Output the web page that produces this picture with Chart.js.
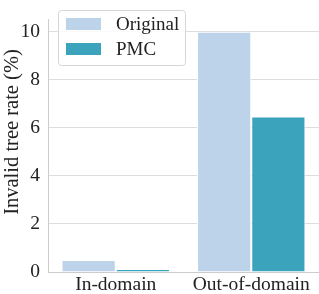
<!DOCTYPE html>
<html>
<head>
<meta charset="utf-8">
<script src="https://cdn.jsdelivr.net/npm/chart.js@4/dist/chart.umd.min.js"></script>
<style>
  html, body { margin: 0; padding: 0; background: #fff; }
  #wrap { width: 319px; height: 294px; }
</style>
</head>
<body>
<div id="wrap"><canvas id="myChart" width="319" height="294"></canvas></div>
<script>
const categories = ['In-domain', 'Out-of-domain'];
const originalValues = [0.5, 10.0];
const pmcValues = [0.13, 6.47];
const yTicks = [0, 2, 4, 6, 8, 10];
const yTitle = 'Invalid tree rate (%)';

const serif = '"Liberation Serif", "Times New Roman", serif';

// legend box drawn inside the plot, like the matplotlib one
const boxLegend = {
    id: 'boxLegend',
    afterDraw(chart) {
        const ctx = chart.ctx;
        const x = 58.5, y = 10.5, w = 127, h = 55;
        ctx.save();
        ctx.fillStyle = 'rgba(255,255,255,0.85)';
        ctx.strokeStyle = '#d6d6d6';
        ctx.lineWidth = 1;
        ctx.beginPath();
        ctx.roundRect(x, y, w, h, 3);
        ctx.fill();
        ctx.stroke();
        ctx.font = '19px ' + serif;
        ctx.textBaseline = 'middle';
        chart.data.datasets.forEach(function(ds, i) {
            const cy = 24 + i * 25;
            ctx.fillStyle = ds.backgroundColor;
            ctx.fillRect(66, cy - 6, 35, 12);
            ctx.fillStyle = '#222';
            ctx.fillText(ds.label, 116, cy + 1);
        });
        // y axis title
        ctx.translate(13, 132);
        ctx.rotate(-Math.PI / 2);
        ctx.textAlign = 'center';
        ctx.font = '20.5px ' + serif;
        ctx.fillStyle = '#222';
        ctx.fillText(yTitle, 0, 0);
        ctx.restore();
    }
};

document.addEventListener('DOMContentLoaded', function() {
    const ctx = document.getElementById('myChart').getContext('2d');

    var myChart = new Chart(ctx, {
        type: 'bar',
        data: {
            labels: categories,
            datasets: [{
                label: 'Original',
                data: originalValues,
                backgroundColor: '#bcd3ea',
                borderColor: '#ffffff',
                borderWidth: 1
            }, {
                label: 'PMC',
                data: pmcValues,
                backgroundColor: '#3ca3bd',
                borderColor: '#ffffff',
                borderWidth: 1
            }]
        },
        options: {
            responsive: false,
            animation: false,
            layout: { padding: { top: 2, right: 0, left: 0, bottom: 0 } },
            categoryPercentage: 0.8,
            barPercentage: 1.0,
            plugins: {
                legend: { display: false },
                tooltip: { enabled: false }
            },
            scales: {
                x: {
                    grid: { display: false, drawTicks: false },
                    border: { color: '#cccccc', width: 1 },
                    ticks: { color: '#222', font: { family: serif, size: 19.5 }, padding: 1 },
                    afterFit: function(s) { s.height = 22; }
                },
                y: {
                    min: 0,
                    max: 10.5,
                    afterBuildTicks: function(s) { s.ticks = yTicks.map(v => ({ value: v })); },
                    grid: { color: '#dddddd', drawTicks: false },
                    border: { color: '#cccccc', width: 1 },
                    ticks: { color: '#222', font: { family: serif, size: 19.5 }, padding: 8 },
                    afterFit: function(s) { s.width = 48; }
                }
            }
        },
        plugins: [boxLegend]
    });
});
</script>
</body>
</html>
